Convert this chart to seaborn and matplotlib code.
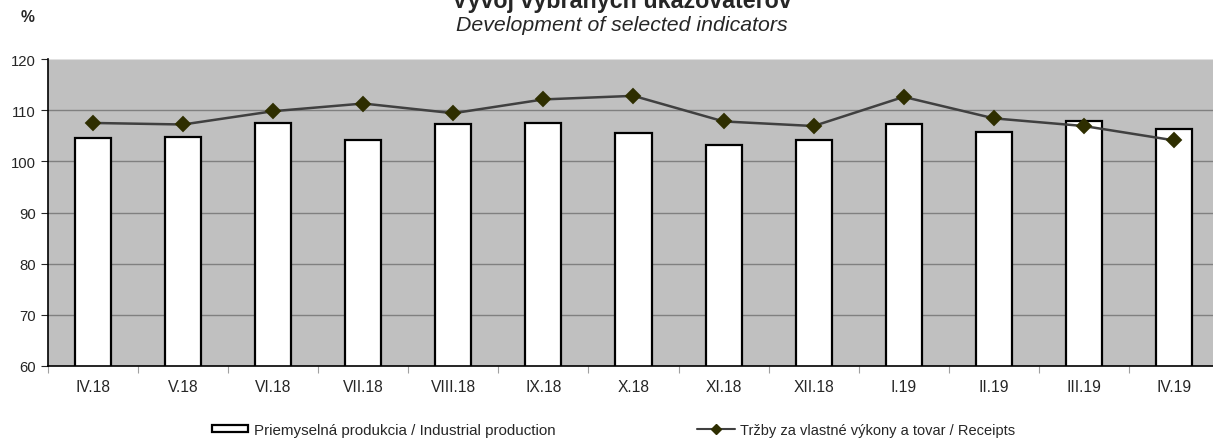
import matplotlib
matplotlib.use("Agg")
import matplotlib.pyplot as plt
import seaborn as sns
import pandas as pd
from matplotlib.patches import Patch
from matplotlib.lines import Line2D

categories = ["IV.18", "V.18", "VI.18", "VII.18", "VIII.18", "IX.18", "X.18",
              "XI.18", "XII.18", "I.19", "II.19", "III.19", "IV.19"]
industrial = [104.6, 104.7, 107.5, 104.2, 107.2, 107.4, 105.6, 103.2, 104.1,
              107.2, 105.7, 107.9, 106.4]
receipts = [107.5, 107.2, 109.8, 111.3, 109.4, 112.1, 112.8, 107.8, 106.9,
            112.6, 108.4, 106.9, 104.1]
yticks = [60, 70, 80, 90, 100, 110, 120]
title = "Vývoj vybraných ukazovateľov"
subtitle = "Development of selected indicators"
label_bar = "Priemyselná produkcia / Industrial production"
label_line = "Tržby za vlastné výkony a tovar / Receipts"

sns.set_style("white")
plt.rcParams["font.family"] = ["Liberation Sans", "DejaVu Sans"]

W, H = 1213, 439
df = pd.DataFrame({"month": categories, "ind": industrial, "rec": receipts})

fig = plt.figure(figsize=(W / 100, H / 100), dpi=100)
renderer = fig.canvas.get_renderer()


def fit_size(text, target_px, **kw):
    t = fig.text(0, 0, text, fontsize=10, **kw)
    w = t.get_window_extent(renderer).width
    t.remove()
    return 10 * target_px / w


ax = fig.add_axes([48 / W, 1 - 367 / H, (1219 - 48) / W, (367 - 60) / H])
ax.set_facecolor("#C0C0C0")

ax.set_ylim(60, 120)
ax.set_yticks(yticks)
for y in yticks[1:-1]:
    ax.axhline(y, color="#808080", lw=1.0, zorder=0.5)

sns.barplot(data=df, x="month", y="ind", order=categories, ax=ax, width=0.4,
            color="white", edgecolor="black", linewidth=1.6, saturation=1,
            zorder=2)
sns.pointplot(data=df, x="month", y="rec", order=categories, ax=ax,
              color="#404040", markers="D", linestyles="-", linewidth=1.8,
              markersize=7, zorder=3)
for line in ax.lines:
    if line.get_marker() == "D":
        line.set_markerfacecolor("#2E2E00")
        line.set_markeredgecolor("#2E2E00")

xs = fit_size("VIII.18", 45)
ys = fit_size("120", 25)

ax.set_xlim(-0.5, len(categories) - 0.5)
ax.set_xlabel("")
ax.set_ylabel("")
ax.tick_params(axis="x", length=0, labelsize=xs, pad=9)
ax.tick_params(axis="y", length=5, width=0.8, labelsize=ys, left=True, pad=4)
ax.set_xticks([i + 0.5 for i in range(-1, len(categories))], minor=True)
ax.tick_params(axis="x", which="minor", length=5, width=0.8, color="#A0A0A0", bottom=True)

for s in ["top", "right"]:
    ax.spines[s].set_visible(False)
ax.spines["left"].set_color("black")
ax.spines["bottom"].set_color("black")
ax.spines["left"].set_linewidth(1.2)
ax.spines["bottom"].set_linewidth(1.2)
ax.axhline(120, color="#E0E0E0", lw=1.5, zorder=1)

ts = fit_size(title, 339, fontweight="bold")
ss = fit_size(subtitle, 333, style="italic")
fig.text(622 / W, 1 - 8 / H, title, ha="center", va="baseline",
         fontsize=ts, fontweight="bold")
fig.text(622 / W, 1 - 31 / H, subtitle, ha="center", va="baseline",
         fontsize=ss, style="italic")
ps = fit_size("%", 14, fontweight="bold")
fig.text(21 / W, 1 - 22 / H, "%", ha="left", va="baseline", fontsize=ps,
         fontweight="bold")

ls1 = fit_size(label_bar, 303)
ls2 = fit_size(label_line, 275)
px1 = ls1 * 100 / 72
px2 = ls2 * 100 / 72

h1 = Patch(facecolor="white", edgecolor="black", linewidth=1.6)
h2 = Line2D([], [], color="#404040", lw=1.5, marker="D", markersize=5,
            markerfacecolor="#2E2E00", markeredgecolor="#2E2E00")
fig.legend([h1], [label_bar], loc="center left", bbox_to_anchor=(212 / W, 1 - 431 / H),
           frameon=False, fontsize=ls1, handlelength=36 / px1, handleheight=6 / px1,
           handletextpad=6 / px1, borderaxespad=0, borderpad=0)
fig.legend([h2], [label_line], loc="center left", bbox_to_anchor=(697 / W, 1 - 431 / H),
           frameon=False, fontsize=ls2, handlelength=38 / px2,
           handletextpad=5 / px2, borderaxespad=0, borderpad=0)

fig.savefig("out.png", dpi=100)
